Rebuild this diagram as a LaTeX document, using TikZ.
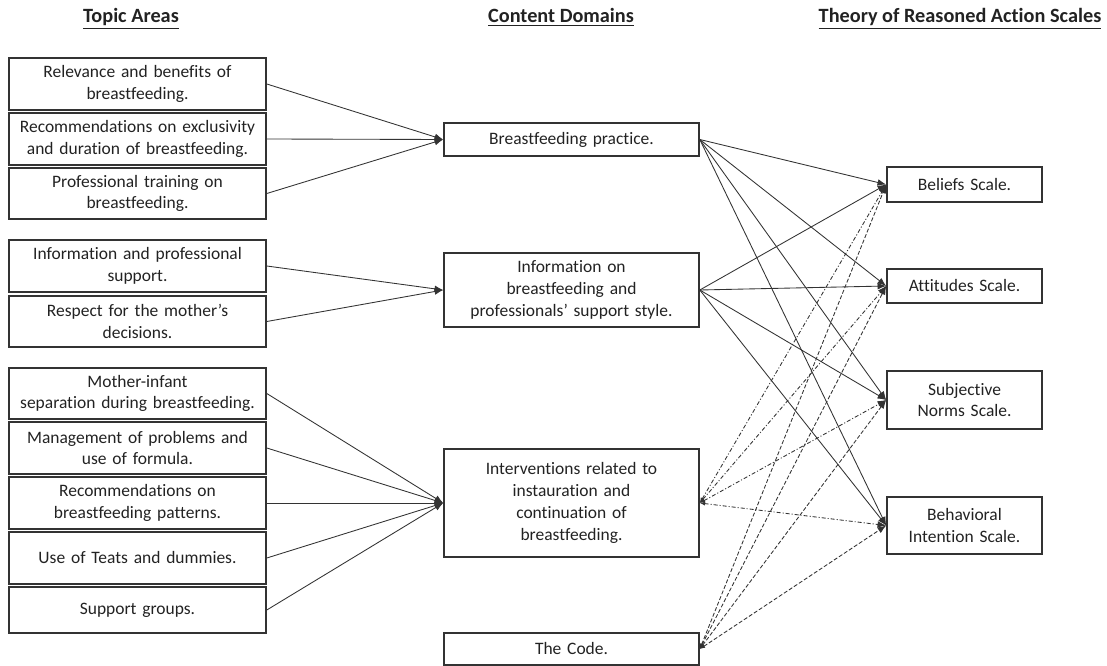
\documentclass[tikz,border=0pt]{standalone}
\usepackage{fontspec}
\setmainfont[Ligatures=NoCommon]{Carlito}
\usetikzlibrary{arrows.meta}
\definecolor{ink}{HTML}{222222}
\definecolor{edge}{HTML}{333333}
\begin{document}
\begin{tikzpicture}[x=0.75pt,y=-0.75pt,
  basebox/.style={draw=edge,line width=1.2pt,rectangle,align=center,inner sep=0pt,text=ink,
    font=\fontsize{13.1}{16.3}\selectfont},
  topicbox/.style={basebox,minimum width=257*0.75pt,text width=250*0.75pt},
  domainbox/.style={basebox,minimum width=255*0.75pt,text width=250*0.75pt},
  scalebox/.style={basebox,minimum width=155*0.75pt,text width=150*0.75pt},
  headtext/.style={text=ink,font=\fontsize{15.2}{18}\selectfont\bfseries,inner sep=0pt,anchor=base},
  link/.style={draw=edge,line width=0.65pt,-{Latex[length=6.5pt,width=5pt]}},
  dashdot/.style={link,{Latex[length=4pt,width=3pt]}-{Latex[length=6.5pt,width=5pt]},dash pattern=on 3pt off 1.5pt on 0.8pt off 1.5pt},
  dashline/.style={link,{Latex[length=4pt,width=3pt]}-{Latex[length=6.5pt,width=5pt]},dash pattern=on 3pt off 1.5pt}]
\useasboundingbox (0,0) rectangle (1107,666);
% headings
\node[headtext] (h1) at (131,23) {\underline{Topic Areas}};
\node[headtext] (h2) at (561,23) {\underline{Content Domains}};
\node[headtext] (h3) at (960,23) {\underline{Theory of Reasoned Action Scales}};
% topic areas
\node[topicbox,minimum height=52*0.75pt] (t1) at (137.5,84) {Relevance and benefits of\\breastfeeding.};
\node[topicbox,minimum height=52*0.75pt] (t2) at (137.5,139) {Recommendations on exclusivity\\and duration of breastfeeding.};
\node[topicbox,minimum height=51*0.75pt] (t3) at (137.5,193.5) {Professional training on\\breastfeeding.};
\node[topicbox,minimum height=52*0.75pt] (t4) at (137.5,266) {Information and professional\\support.};
\node[topicbox,minimum height=51*0.75pt] (t5) at (137.5,321.5) {Respect for the mother’s\\decisions.};
\node[topicbox,minimum height=51*0.75pt] (t6) at (137.5,393.5) {Mother-infant\\separation during breastfeeding.};
\node[topicbox,minimum height=52*0.75pt] (t7) at (137.5,448) {Management of problems and\\use of formula.};
\node[topicbox,minimum height=52*0.75pt] (t8) at (137.5,503) {Recommendations on\\breastfeeding patterns.};
\node[topicbox,minimum height=52*0.75pt] (t9) at (137.5,558) {Use of Teats and dummies.};
\node[topicbox,minimum height=46*0.75pt] (t10) at (137.5,610) {Support groups.};
% content domains
\node[domainbox,minimum height=33*0.75pt] (c1) at (571.5,139.5) {Breastfeeding practice.};
\node[domainbox,minimum height=74*0.75pt] (c2) at (571.5,290) {Information on\\breastfeeding and\\professionals’ support style.};
\node[domainbox,minimum height=108*0.75pt] (c3) at (571.5,503) {Interventions related to\\instauration and\\continuation of\\breastfeeding.};
\node[domainbox,minimum height=32*0.75pt] (c4) at (571.5,649) {The Code.};
% scales
\node[scalebox,minimum height=35*0.75pt] (s1) at (964.5,184.5) {Beliefs Scale.};
\node[scalebox,minimum height=34*0.75pt] (s2) at (964.5,286) {Attitudes Scale.};
\node[scalebox,minimum height=58*0.75pt] (s3) at (964.5,400) {Subjective\\Norms Scale.};
\node[scalebox,minimum height=57*0.75pt] (s4) at (964.5,525.5) {Behavioral\\Intention Scale.};
% topic -> domain
\foreach \t in {t1,t2,t3} \draw[link] (\t.east) -- (c1.west);
\foreach \t in {t4,t5} \draw[link] (\t.east) -- (c2.west);
\foreach \t in {t6,t7,t8,t9,t10} \draw[link] (\t.east) -- (c3.west);
% domain -> scales
\foreach \s in {s1,s2,s3,s4} {
  \draw[link] (c1.east) -- (\s.west);
  \draw[link] (c2.east) -- (\s.west);
  \draw[dashdot] (c3.east) -- (\s.west);
  \draw[dashline] (c4.east) -- (\s.west);
}
\end{tikzpicture}
\end{document}
